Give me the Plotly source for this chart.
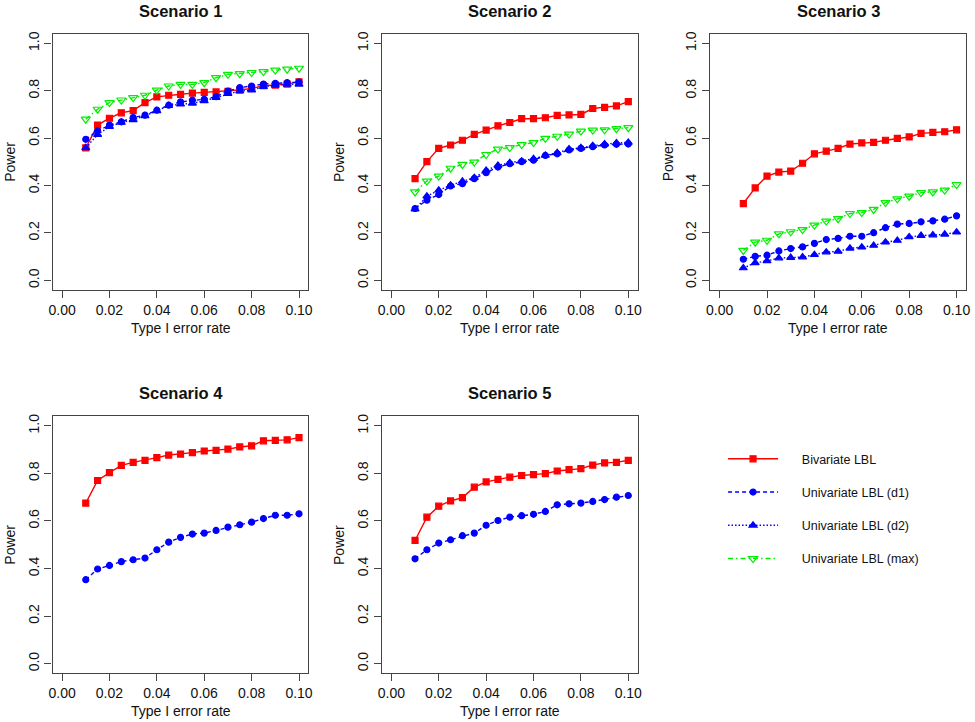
import plotly.graph_objects as go

# ---------------- data ----------------
alpha = [0.010, 0.015, 0.020, 0.025, 0.030, 0.035, 0.040, 0.045, 0.050, 0.055,
         0.060, 0.065, 0.070, 0.075, 0.080, 0.085, 0.090, 0.095, 0.100]

s1_biv = [0.559, 0.655, 0.684, 0.707, 0.716, 0.750, 0.774, 0.781, 0.785, 0.790,
          0.793, 0.795, 0.797, 0.803, 0.810, 0.821, 0.824, 0.828, 0.838]
s1_d1 = [0.595, 0.631, 0.655, 0.669, 0.687, 0.697, 0.718, 0.739, 0.753, 0.760,
         0.764, 0.775, 0.799, 0.813, 0.820, 0.828, 0.831, 0.834, 0.837]
s1_d2 = [0.559, 0.615, 0.649, 0.666, 0.677, 0.694, 0.715, 0.737, 0.743, 0.747,
         0.757, 0.771, 0.788, 0.799, 0.803, 0.817, 0.823, 0.827, 0.827]
s1_max = [0.680, 0.722, 0.750, 0.761, 0.771, 0.781, 0.803, 0.820, 0.827, 0.827,
          0.834, 0.855, 0.869, 0.872, 0.877, 0.881, 0.887, 0.891, 0.895]

s2_biv = [0.429, 0.501, 0.557, 0.571, 0.591, 0.616, 0.634, 0.652, 0.666, 0.682,
          0.682, 0.686, 0.696, 0.698, 0.700, 0.725, 0.730, 0.736, 0.754]
s2_d1 = [0.303, 0.338, 0.362, 0.398, 0.408, 0.429, 0.454, 0.478, 0.492, 0.501,
         0.507, 0.527, 0.534, 0.550, 0.557, 0.564, 0.571, 0.574, 0.575]
s2_d2 = [0.300, 0.355, 0.380, 0.401, 0.418, 0.433, 0.464, 0.485, 0.496, 0.503,
         0.513, 0.527, 0.538, 0.554, 0.559, 0.568, 0.575, 0.580, 0.582]
s2_max = [0.373, 0.419, 0.440, 0.473, 0.489, 0.499, 0.531, 0.554, 0.560, 0.573,
          0.581, 0.599, 0.608, 0.617, 0.630, 0.634, 0.635, 0.640, 0.644]

s3_biv = [0.324, 0.390, 0.440, 0.457, 0.461, 0.494, 0.534, 0.545, 0.557, 0.575,
          0.580, 0.582, 0.591, 0.599, 0.605, 0.620, 0.624, 0.627, 0.635]
s3_d1 = [0.089, 0.101, 0.106, 0.124, 0.134, 0.141, 0.156, 0.172, 0.177, 0.186,
         0.186, 0.201, 0.222, 0.237, 0.240, 0.247, 0.251, 0.258, 0.272]
s3_d2 = [0.052, 0.074, 0.082, 0.094, 0.096, 0.098, 0.108, 0.119, 0.122, 0.135,
         0.140, 0.147, 0.161, 0.168, 0.183, 0.189, 0.191, 0.194, 0.203]
s3_max = [0.126, 0.161, 0.169, 0.196, 0.205, 0.214, 0.233, 0.250, 0.260, 0.282,
          0.286, 0.299, 0.328, 0.344, 0.355, 0.370, 0.373, 0.381, 0.404]

s4_biv = [0.675, 0.770, 0.803, 0.834, 0.846, 0.855, 0.866, 0.877, 0.881, 0.887,
          0.894, 0.897, 0.902, 0.911, 0.916, 0.937, 0.939, 0.941, 0.950]
s4_d1 = [0.353, 0.398, 0.413, 0.429, 0.437, 0.444, 0.479, 0.511, 0.531, 0.545,
         0.549, 0.560, 0.574, 0.584, 0.595, 0.610, 0.624, 0.624, 0.630]

s5_biv = [0.518, 0.616, 0.662, 0.684, 0.698, 0.742, 0.764, 0.775, 0.784, 0.791,
          0.795, 0.799, 0.810, 0.816, 0.820, 0.835, 0.844, 0.846, 0.855]
s5_d1 = [0.441, 0.479, 0.507, 0.521, 0.538, 0.549, 0.582, 0.602, 0.616, 0.622,
         0.628, 0.640, 0.668, 0.672, 0.675, 0.682, 0.690, 0.700, 0.707]

series_names = ["Bivariate LBL", "Univariate LBL (d1)", "Univariate LBL (d2)", "Univariate LBL (max)"]
scenario_titles = ["Scenario 1", "Scenario 2", "Scenario 3", "Scenario 4", "Scenario 5"]
scenario_data = [
    [s1_biv, s1_d1, s1_d2, s1_max],
    [s2_biv, s2_d1, s2_d2, s2_max],
    [s3_biv, s3_d1, s3_d2, s3_max],
    [s4_biv, s4_d1],
    [s5_biv, s5_d1],
]
x_tickvals = [0.00, 0.02, 0.04, 0.06, 0.08, 0.10]
x_ticktext = ["0.00", "0.02", "0.04", "0.06", "0.08", "0.10"]
y_tickvals = [0.0, 0.2, 0.4, 0.6, 0.8, 1.0]
y_ticktext = ["0.0", "0.2", "0.4", "0.6", "0.8", "1.0"]

# ---------------- styling ----------------
W, H = 975, 722
FONT = "Liberation Sans, Arial, Helvetica, sans-serif"
styles = [
    dict(color="#FF0000", dash="solid", symbol="square", size=6),
    dict(color="#0000FF", dash="4px,3px", symbol="circle", size=6),
    dict(color="#0000FF", dash="1.5px,2px", symbol="triangle-up", size=7),
    dict(color="#00EE00", dash="5px,3px,1.5px,3px", symbol="triangle-down-open", size=8),
]
# panel boxes in pixels: left, right, top, bottom
boxes = [(49, 307, 31, 288), (381, 639, 31, 288), (712, 970, 31, 288),
         (49, 307, 415, 673), (381, 639, 415, 673)]
LEGEND_PAD = "\u2003\u2002"  # visual gap between legend sample and label


def fx(px):
    return px / W


def fy(py):
    return 1 - py / H


fig = go.Figure()
annotations = []
for i, (title, data) in enumerate(zip(scenario_titles, scenario_data)):
    n = i + 1
    xa = "x" if n == 1 else f"x{n}"
    ya = "y" if n == 1 else f"y{n}"
    for j, vals in enumerate(data):
        st = styles[j]
        fig.add_trace(go.Scatter(
            x=alpha, y=vals, xaxis=xa, yaxis=ya, mode="lines+markers",
            name=LEGEND_PAD + series_names[j], legendgroup=series_names[j], showlegend=(n == 1),
            line=dict(color=st["color"], width=1.4, dash=st["dash"]),
            marker=dict(symbol=st["symbol"], size=st["size"], color=st["color"],
                        line=dict(color=st["color"], width=1.2)),
        ))
    l, r, t, b = boxes[i]
    axis_common = dict(showline=True, linecolor="#444", linewidth=1.2, mirror=True,
                       ticks="outside", ticklen=7, tickcolor="#444", tickwidth=1,
                       showgrid=False, zeroline=False,
                       tickfont=dict(family=FONT, size=14, color="#111"))
    fig.layout[f"xaxis{'' if n == 1 else n}"] = dict(
        domain=[fx(l), fx(r)], anchor=ya, range=[-0.004, 0.104],
        tickvals=x_tickvals, ticktext=x_ticktext, **axis_common)
    fig.layout[f"yaxis{'' if n == 1 else n}"] = dict(
        domain=[fy(b), fy(t)], anchor=xa, range=[-0.04, 1.04],
        tickvals=y_tickvals, ticktext=y_ticktext, tickangle=-90, **axis_common)
    cx = (l + r) / 2
    annotations.append(dict(text=f"<b>{title}</b>", x=fx(cx), y=fy(t - 23), xref="paper", yref="paper",
                            showarrow=False, xanchor="center", yanchor="middle",
                            font=dict(family=FONT, size=16.5, color="#111")))
    annotations.append(dict(text="Type I error rate", x=fx(cx), y=fy(b + 38), xref="paper", yref="paper",
                            showarrow=False, xanchor="center", yanchor="middle",
                            font=dict(family=FONT, size=14, color="#111")))
    annotations.append(dict(text="Power", x=fx(l - 43), y=fy((t + b) / 2), xref="paper", yref="paper",
                            showarrow=False, xanchor="center", yanchor="middle", textangle=-90,
                            font=dict(family=FONT, size=14, color="#111")))

fig.update_layout(
    width=W, height=H, margin=dict(l=0, r=0, t=0, b=0),
    paper_bgcolor="white", plot_bgcolor="white",
    annotations=annotations,
    showlegend=True,
    legend=dict(x=fx(725), y=fy(443), xanchor="left", yanchor="top",
                font=dict(family=FONT, size=12.5, color="#111"),
                tracegroupgap=14, itemwidth=50, bgcolor="rgba(0,0,0,0)"),
)

fig.write_html("out.html", config={"displayModeBar": False},
               post_script="document.body.style.margin='0px';document.body.style.overflow='hidden';")
